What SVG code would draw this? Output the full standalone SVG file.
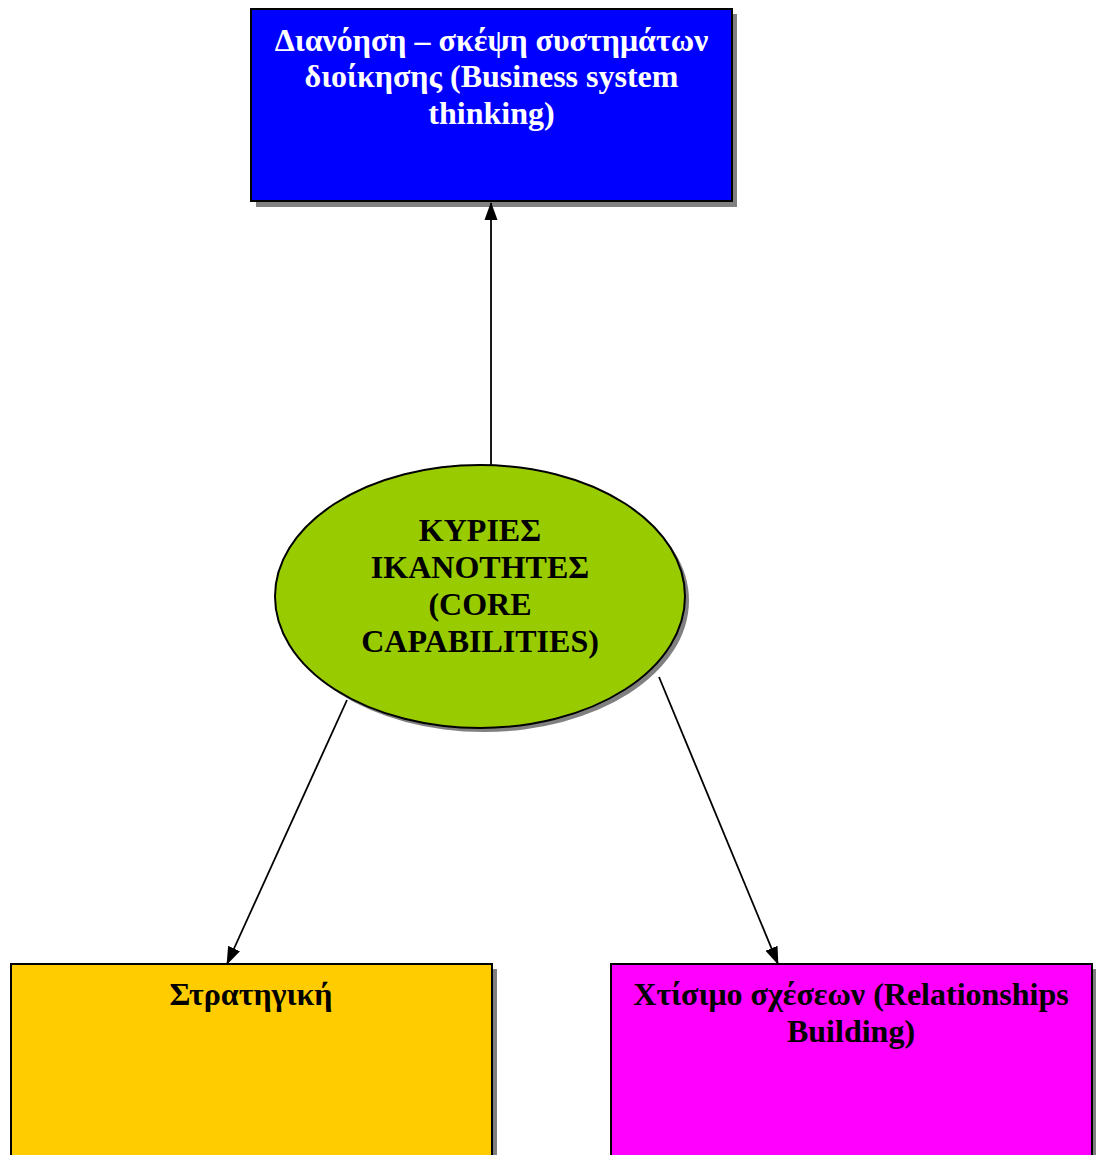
<svg xmlns="http://www.w3.org/2000/svg" width="1096" height="1155" viewBox="0 0 1096 1155">
<defs>
<style>
.box{stroke:#000;stroke-width:2}
.shadow{fill:#808080}
.t{font-family:"Liberation Serif","Times New Roman",serif;font-weight:bold;font-size:32px;text-anchor:middle}
.conn{stroke:#000;stroke-width:1.8;fill:none}
</style>
<marker id="ah" markerUnits="userSpaceOnUse" markerWidth="18" markerHeight="16" viewBox="0 0 18 16" refX="17" refY="8" orient="auto">
<path d="M0,1.5 L18,8 L0,14.5 Z" fill="#000"/>
</marker>
</defs>
<rect width="1096" height="1155" fill="#fff"/>
<g id="node-top">
<rect class="shadow" x="256" y="14" width="481" height="193"/>
<rect class="box" x="251" y="9" width="481" height="192" fill="#0000FF"/>
<text class="t" fill="#fff" x="491.5" y="51">Διανόηση – σκέψη συστημάτων</text>
<text class="t" fill="#fff" x="491.5" y="87">διοίκησης (Business system</text>
<text class="t" fill="#fff" x="491.5" y="124">thinking)</text>
</g>
<g id="node-core">
<ellipse class="shadow" cx="484" cy="600.5" rx="205" ry="131.5"/>
<ellipse class="box" cx="480" cy="596.5" rx="205" ry="131.5" fill="#99CC00"/>
<text class="t" fill="#000" x="480" y="541">ΚΥΡΙΕΣ</text>
<text class="t" fill="#000" x="480" y="578">ΙΚΑΝΟΤΗΤΕΣ</text>
<text class="t" fill="#000" x="480" y="615">(CORE</text>
<text class="t" fill="#000" x="480" y="652">CAPABILITIES)</text>
</g>
<g id="node-strategy">
<rect class="shadow" x="16" y="969" width="481" height="200"/>
<rect class="box" x="11" y="964" width="481" height="200" fill="#FFCC00"/>
<text class="t" fill="#000" x="251" y="1005">Στρατηγική</text>
</g>
<g id="node-relationships">
<rect class="shadow" x="616" y="969" width="481" height="200"/>
<rect class="box" x="611" y="964" width="481" height="200" fill="#FF00FF"/>
<text class="t" fill="#000" x="851" y="1005">Χτίσιμο σχέσεων (Relationships</text>
<text class="t" fill="#000" x="851" y="1042">Building)</text>
</g>
<g id="connectors">
<line class="conn" x1="491" y1="465" x2="491" y2="203" marker-end="url(#ah)"/>
<line class="conn" x1="347" y1="700" x2="227" y2="964" marker-end="url(#ah)"/>
<line class="conn" x1="659" y1="677" x2="778" y2="964" marker-end="url(#ah)"/>
</g>
</svg>
